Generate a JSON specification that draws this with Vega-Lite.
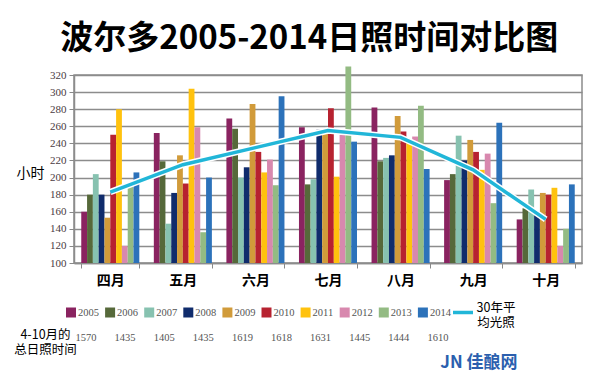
{
  "$schema": "https://vega.github.io/schema/vega-lite/v6.json",
  "background": "white",
  "padding": {"left": 13, "top": 22, "right": 5, "bottom": 0},
  "config": {"view": {"stroke": null}},
  "title": {
    "text": "波尔多2005-2014日照时间对比图",
    "font": "Noto Sans CJK SC",
    "fontWeight": "bold",
    "fontSize": 33,
    "color": "black",
    "anchor": "middle",
    "offset": 10,
    "dx": 11
  },
  "bounds": "flush",
  "spacing": 42,
  "datasets": {
    "bars": [
      {"month": "四月", "year": "2005", "hours": 160},
      {"month": "四月", "year": "2006", "hours": 180},
      {"month": "四月", "year": "2007", "hours": 204},
      {"month": "四月", "year": "2008", "hours": 180},
      {"month": "四月", "year": "2009", "hours": 153},
      {"month": "四月", "year": "2010", "hours": 250},
      {"month": "四月", "year": "2011", "hours": 280},
      {"month": "四月", "year": "2012", "hours": 120},
      {"month": "四月", "year": "2013", "hours": 189},
      {"month": "四月", "year": "2014", "hours": 206},
      {"month": "五月", "year": "2005", "hours": 252},
      {"month": "五月", "year": "2006", "hours": 219},
      {"month": "五月", "year": "2007", "hours": 146},
      {"month": "五月", "year": "2008", "hours": 182},
      {"month": "五月", "year": "2009", "hours": 226},
      {"month": "五月", "year": "2010", "hours": 193},
      {"month": "五月", "year": "2011", "hours": 304},
      {"month": "五月", "year": "2012", "hours": 259},
      {"month": "五月", "year": "2013", "hours": 136},
      {"month": "五月", "year": "2014", "hours": 200},
      {"month": "六月", "year": "2005", "hours": 269},
      {"month": "六月", "year": "2006", "hours": 257},
      {"month": "六月", "year": "2007", "hours": 200},
      {"month": "六月", "year": "2008", "hours": 212},
      {"month": "六月", "year": "2009", "hours": 286},
      {"month": "六月", "year": "2010", "hours": 230},
      {"month": "六月", "year": "2011", "hours": 206},
      {"month": "六月", "year": "2012", "hours": 221},
      {"month": "六月", "year": "2013", "hours": 191},
      {"month": "六月", "year": "2014", "hours": 295},
      {"month": "七月", "year": "2005", "hours": 259},
      {"month": "七月", "year": "2006", "hours": 192},
      {"month": "七月", "year": "2007", "hours": 198},
      {"month": "七月", "year": "2008", "hours": 256},
      {"month": "七月", "year": "2009", "hours": 256},
      {"month": "七月", "year": "2010", "hours": 281},
      {"month": "七月", "year": "2011", "hours": 201},
      {"month": "七月", "year": "2012", "hours": 250},
      {"month": "七月", "year": "2013", "hours": 330},
      {"month": "七月", "year": "2014", "hours": 242},
      {"month": "八月", "year": "2005", "hours": 282},
      {"month": "八月", "year": "2006", "hours": 219},
      {"month": "八月", "year": "2007", "hours": 223},
      {"month": "八月", "year": "2008", "hours": 226},
      {"month": "八月", "year": "2009", "hours": 272},
      {"month": "八月", "year": "2010", "hours": 254},
      {"month": "八月", "year": "2011", "hours": 242},
      {"month": "八月", "year": "2012", "hours": 248},
      {"month": "八月", "year": "2013", "hours": 284},
      {"month": "八月", "year": "2014", "hours": 210},
      {"month": "九月", "year": "2005", "hours": 197},
      {"month": "九月", "year": "2006", "hours": 204},
      {"month": "九月", "year": "2007", "hours": 249},
      {"month": "九月", "year": "2008", "hours": 220},
      {"month": "九月", "year": "2009", "hours": 244},
      {"month": "九月", "year": "2010", "hours": 230},
      {"month": "九月", "year": "2011", "hours": 209},
      {"month": "九月", "year": "2012", "hours": 228},
      {"month": "九月", "year": "2013", "hours": 170},
      {"month": "九月", "year": "2014", "hours": 264},
      {"month": "十月", "year": "2005", "hours": 151},
      {"month": "十月", "year": "2006", "hours": 164},
      {"month": "十月", "year": "2007", "hours": 186},
      {"month": "十月", "year": "2008", "hours": 156},
      {"month": "十月", "year": "2009", "hours": 182},
      {"month": "十月", "year": "2010", "hours": 180},
      {"month": "十月", "year": "2011", "hours": 188},
      {"month": "十月", "year": "2012", "hours": 120},
      {"month": "十月", "year": "2013", "hours": 140},
      {"month": "十月", "year": "2014", "hours": 192}
    ],
    "avg": [
      {"month": "四月", "avg": 183},
      {"month": "五月", "avg": 215},
      {"month": "六月", "avg": 235},
      {"month": "七月", "avg": 255},
      {"month": "八月", "avg": 247},
      {"month": "九月", "avg": 209},
      {"month": "十月", "avg": 151}
    ],
    "totals": [
      {"key": "2005", "total": 1570},
      {"key": "2006", "total": 1435},
      {"key": "2007", "total": 1405},
      {"key": "2008", "total": 1435},
      {"key": "2009", "total": 1619},
      {"key": "2010", "total": 1618},
      {"key": "2011", "total": 1631},
      {"key": "2012", "total": 1445},
      {"key": "2013", "total": 1444},
      {"key": "2014", "total": 1610}
    ],
    "extra": [
      {"key": "avg", "label": "30年平\n均光照", "brand": "JN 佳酿网"}
    ]
  },
  "vconcat": [
    {
      "width": 508,
      "height": 188,
      "view": {"stroke": "#8c8c8c", "strokeWidth": 1.5},
      "layer": [
        {
          "data": {"name": "bars"},
          "mark": {"type": "bar"},
          "encoding": {
            "x": {
              "field": "month", "type": "nominal",
              "sort": ["四月", "五月", "六月", "七月", "八月", "九月", "十月"],
              "scale": {"paddingInner": 0.2, "paddingOuter": 0.1},
              "axis": {
                "title": null, "labelAngle": 0,
                "labelFont": "Noto Sans CJK SC", "labelFontWeight": "bold",
                "labelFontSize": 14, "labelColor": "black", "labelPadding": 5,
                "tickBand": "extent", "tickSize": 5, "tickColor": "#888",
                "domainColor": "#8c8c8c", "domainWidth": 1.5, "grid": false
              }
            },
            "xOffset": {"field": "year", "type": "nominal", "scale": {"paddingInner": 0, "paddingOuter": 0}},
            "y": {
              "field": "hours", "type": "quantitative",
              "scale": {"domain": [100, 320], "zero": false, "nice": false},
              "axis": {
                "title": "小时", "titleAngle": 0, "titleFont": "Noto Sans CJK SC",
                "titleFontWeight": "normal", "titleFontSize": 14, "titleColor": "black",
                "titleX": -44, "titleY": 98, "titleAlign": "center", "titleBaseline": "middle",
                "values": [100, 120, 140, 160, 180, 200, 220, 240, 260, 280, 300, 320],
                "tickCount": 20,
                "labelOverlap": false, "labelFlush": false,
                "labelFont": "Liberation Serif", "labelFontSize": 11, "labelColor": "#4a3b42",
                "labelPadding": 3, "tickSize": 5, "tickColor": "#888",
                "gridColor": "#8c8c8c", "gridWidth": 1.3, "domainColor": "#8c8c8c", "domainWidth": 1.5
              }
            },
            "y2": {"datum": 100},
            "color": {
              "field": "year", "type": "nominal",
              "scale": {
                "domain": ["2005", "2006", "2007", "2008", "2009", "2010", "2011", "2012", "2013", "2014"],
                "range": ["#8A2360", "#56693A", "#87C2B0", "#102C6C", "#D19B3A", "#B72230", "#FFC20E", "#D888AE", "#93BB83", "#2C72BA"]
              },
              "legend": null
            }
          }
        },
        {
          "data": {"name": "avg"},
          "mark": {"type": "line", "color": "white", "strokeWidth": 6.5},
          "encoding": {
            "x": {"field": "month", "type": "nominal", "sort": ["四月", "五月", "六月", "七月", "八月", "九月", "十月"]},
            "y": {"field": "avg", "type": "quantitative"}
          }
        },
        {
          "data": {"name": "avg"},
          "mark": {"type": "line", "color": "#21B6D8", "strokeWidth": 3.5},
          "encoding": {
            "x": {"field": "month", "type": "nominal", "sort": ["四月", "五月", "六月", "七月", "八月", "九月", "十月"]},
            "y": {"field": "avg", "type": "quantitative"}
          }
        }
      ]
    },
    {
      "width": 415,
      "height": 65,
      "encoding": {
        "x": {
          "field": "key", "type": "nominal",
          "scale": {"type": "point", "padding": 0.307,
            "domain": ["2005", "2006", "2007", "2008", "2009", "2010", "2011", "2012", "2013", "2014", "avg"]},
          "axis": null
        }
      },
      "layer": [
        {
          "data": {"name": "totals"},
          "mark": {"type": "square", "size": 100, "opacity": 1, "filled": true, "xOffset": -15},
          "encoding": {
            "y": {"datum": "legend", "type": "nominal",
              "scale": {"type": "point", "domain": ["legend", "total", "mark"], "padding": 0.3},
              "axis": {"title": null, "labelExpr": "datum.value == 'total' ? ['4-10月的','总日照时间'] : ''",
                "labelFont": "Noto Sans CJK SC", "labelFontSize": 12.5, "labelColor": "black",
                "labelAlign": "center", "labelBaseline": "middle", "labelPadding": 29, "labelLineHeight": 15,
                "labelOffset": -3,
                "labelOverlap": false, "labelBound": false, "labelFlush": false,
                "ticks": false, "tickSize": 0, "domain": false, "grid": false}},
            "color": {
              "field": "key", "type": "nominal",
              "scale": {
                "domain": ["2005", "2006", "2007", "2008", "2009", "2010", "2011", "2012", "2013", "2014"],
                "range": ["#8A2360", "#56693A", "#87C2B0", "#102C6C", "#D19B3A", "#B72230", "#FFC20E", "#D888AE", "#93BB83", "#2C72BA"]
              },
              "legend": null
            }
          }
        },
        {
          "data": {"name": "totals"},
          "mark": {"type": "text", "align": "left", "dx": -8, "font": "Liberation Serif", "fontSize": 10.5, "color": "#555"},
          "encoding": {
            "y": {"datum": "legend", "type": "nominal"},
            "text": {"field": "key"}
          }
        },
        {
          "data": {"name": "totals"},
          "mark": {"type": "text", "align": "center", "font": "Liberation Serif", "fontSize": 10.5, "color": "#555"},
          "encoding": {
            "y": {"datum": "total", "type": "nominal"},
            "text": {"field": "total"}
          }
        },
        {
          "data": {"name": "extra"},
          "mark": {"type": "rule", "color": "#21B6D8", "strokeWidth": 3.5, "xOffset": -24, "x2Offset": -4},
          "encoding": {
            "x2": {"field": "key"},
            "y": {"datum": "legend", "type": "nominal"}
          }
        },
        {
          "data": {"name": "extra"},
          "mark": {"type": "text", "align": "center", "dx": 19, "dy": -5, "lineBreak": "\n", "lineHeight": 15,
            "font": "Noto Sans CJK SC", "fontSize": 12.5, "color": "black"},
          "encoding": {
            "y": {"datum": "legend", "type": "nominal"},
            "text": {"field": "label"}
          }
        },
        {
          "data": {"name": "extra"},
          "mark": {"type": "text", "align": "center", "dx": 2,
            "font": "Noto Sans CJK SC", "fontWeight": "bold", "fontSize": 17, "color": "#2B5FAE"},
          "encoding": {
            "y": {"datum": "mark", "type": "nominal"},
            "text": {"field": "brand"}
          }
        }
      ]
    }
  ]
}
